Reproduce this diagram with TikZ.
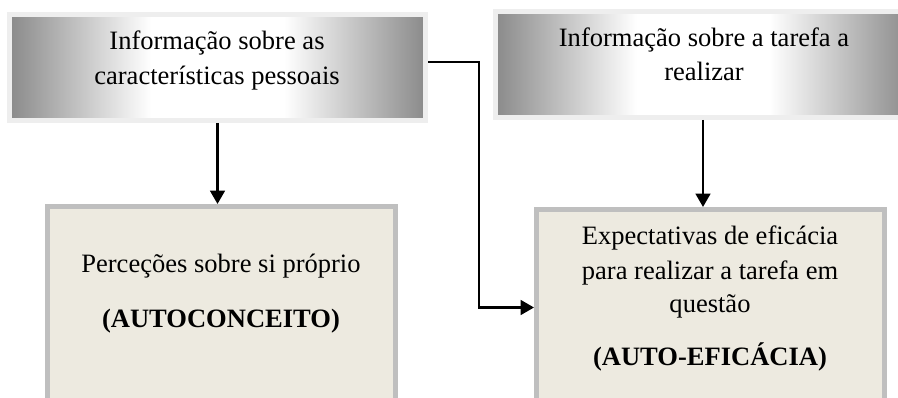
\documentclass[tikz,border=0pt]{standalone}
\usepackage{fontspec}
\setmainfont{Liberation Serif}
\usetikzlibrary{arrows.meta}
\definecolor{sdark}{RGB}{138,138,138}
\definecolor{topborder}{RGB}{238,238,238}
\definecolor{botborder}{RGB}{191,191,191}
\definecolor{beige}{RGB}{237,234,224}
\pgfdeclarehorizontalshading{silver}{100bp}{color(0bp)=(sdark); color(25bp)=(sdark); color(42bp)=(white); color(58bp)=(white); color(75bp)=(sdark); color(100bp)=(sdark)}
\begin{document}
\begin{tikzpicture}[x=0.75pt,y=-0.75pt,
  topbox/.style={draw=topborder,line width=3.75pt,shading=silver,inner sep=0pt,outer sep=1.875pt},
  botbox/.style={draw=botborder,line width=3.75pt,fill=beige,inner sep=0pt,outer sep=1.875pt},
  txt/.style={anchor=base,inner sep=0pt,font=\fontsize{19.9}{26}\selectfont},
  btxt/.style={txt,font=\fontsize{19.9}{26}\selectfont\bfseries},
  arr/.style={line width=1.8pt,-{Triangle[length=10pt,width=11pt]}}]
\useasboundingbox (0,0) rectangle (898,398);
\clip (0,0) rectangle (898,398);
\fill[white] (0,0) rectangle (898,398);
% boxes
\node[topbox,minimum width=416*0.75pt,minimum height=106*0.75pt] (tl) at (217.5,67.5) {};
\node[topbox,minimum width=415*0.75pt,minimum height=106*0.75pt] (tr) at (703,64.5) {};
\node[botbox,minimum width=348*0.75pt,minimum height=210*0.75pt] (bl) at (221.5,311.5) {};
\node[botbox,minimum width=348*0.75pt,minimum height=210*0.75pt] (br) at (710.5,314.5) {};
% texts
\node[txt] (t1a) at (217,50) {Informação sobre as};
\node[txt] (t1b) at (217,85) {características pessoais};
\node[txt] (t2a) at (704,47) {Informação sobre a tarefa a};
\node[txt] (t2b) at (704,81) {realizar};
\node[txt] (t3a) at (221,273) {Perceções sobre si próprio};
\node[btxt] (t3b) at (221,328) {(AUTOCONCEITO)};
\node[txt] (t4a) at (710,245) {Expectativas de eficácia};
\node[txt] (t4b) at (710,280) {para realizar a tarefa em};
\node[txt] (t4c) at (710,313) {questão};
\node[btxt] (t4d) at (710,365) {(AUTO-EFICÁCIA)};
% connectors
\draw[arr] (tl.south) -- (tl.south |- bl.north);
\draw[arr] (tr.south) -- (tr.south |- br.north);
\coordinate (e1) at (479,62);
\coordinate (e2) at (479,307.5);
\draw[arr] (tl.east |- e1) -- (e1) -- (e2) -- (br.west |- e2);
\end{tikzpicture}
\end{document}
